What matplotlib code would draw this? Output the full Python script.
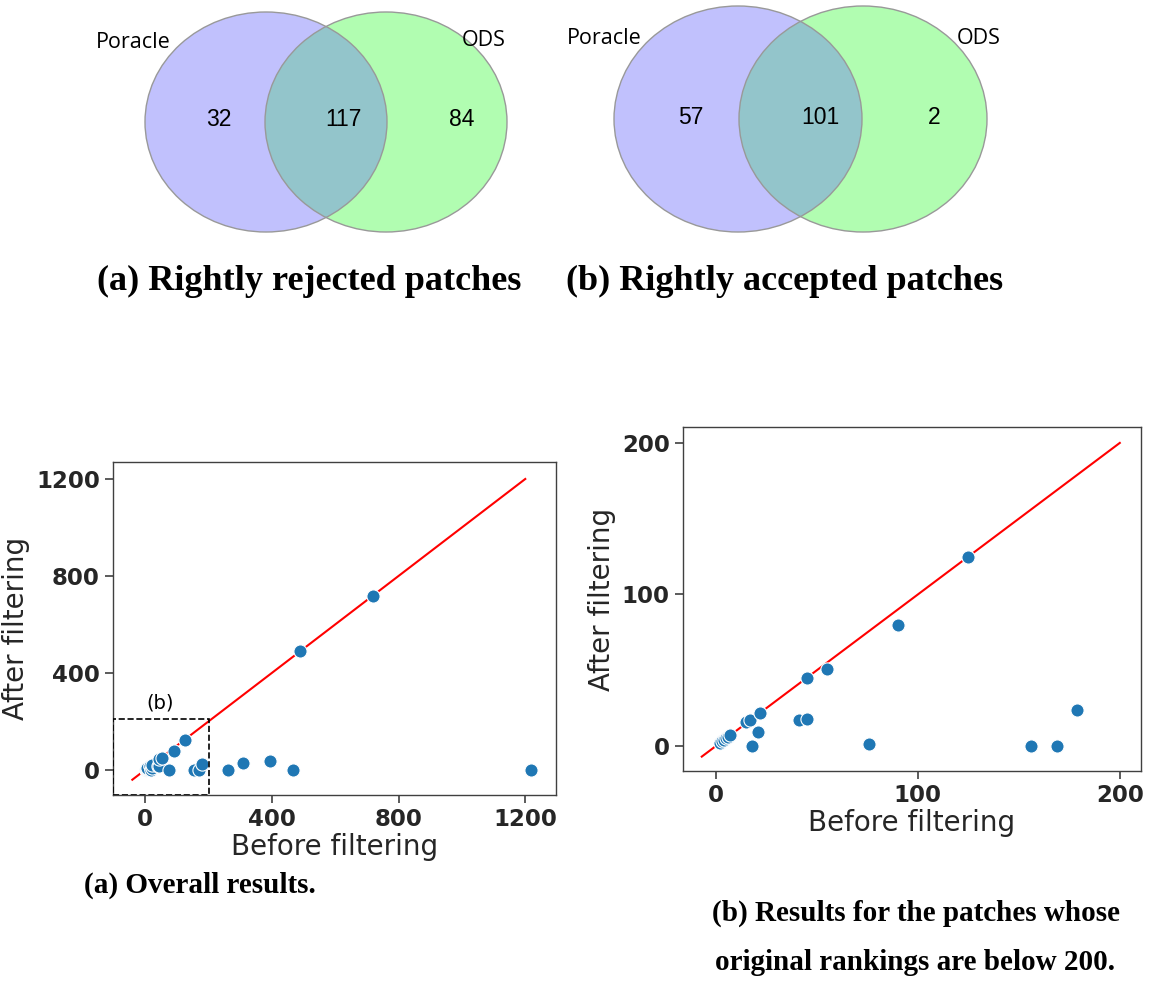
import matplotlib
matplotlib.use('Agg')
import matplotlib.pyplot as plt
from matplotlib.patches import Ellipse, Rectangle

# venn counts: (only poracle, both, only ods)
rejected = [32, 117, 84]
accepted = [57, 101, 2]
set_names = ['Poracle', 'ODS']

# patch rankings before / after filtering
before = [2, 3, 4, 5, 6, 7, 15, 17, 18, 21, 22, 41, 45, 45, 55, 76, 90, 125,
          156, 169, 179, 262, 309, 394, 466, 489, 718, 1219]
after = [2, 3, 4, 5, 6, 7, 16, 17, 0, 9, 22, 17, 18, 45, 51, 1, 80, 125,
         0, 0, 24, 0, 30, 36, 0, 489, 718, 0]

W, H = 1150, 981
fig = plt.figure(figsize=(W / 100, H / 100), dpi=100)

def px_axes(x0, y0, x1, y1):
    # pixel box (top-left origin) -> figure axes
    return fig.add_axes([x0 / W, 1 - y1 / H, (x1 - x0) / W, (y1 - y0) / H])

# ---- top: venn diagrams, drawn in pixel space
va = px_axes(0, 0, W, 300)
va.set_xlim(0, W)
va.set_ylim(300, 0)
va.axis('off')

c_left = '#c1c1fd'
c_right = '#b1fdb1'
c_mid = '#93c5cb'

def venn(cx1, cx2, cy, rx, ry, counts, num_x, lab_pos):
    left = Ellipse((cx1, cy), 2 * rx, 2 * ry, fc=c_left, ec='none')
    right = Ellipse((cx2, cy), 2 * rx, 2 * ry, fc=c_right, ec='none')
    va.add_patch(left)
    va.add_patch(right)
    mid = Ellipse((cx2, cy), 2 * rx, 2 * ry, fc=c_mid, ec='none')
    va.add_patch(mid)
    mid.set_clip_path(left)
    for cx in (cx1, cx2):
        va.add_patch(Ellipse((cx, cy), 2 * rx, 2 * ry, fc='none', ec='#999999', lw=1.0))
    for x, n in zip(num_x, counts):
        va.text(x, cy - 2, str(n), ha='center', va='center', fontsize=16.5,
                family='Liberation Sans')
    for (x, y), name in zip(lab_pos, set_names):
        va.text(x, y, name, ha='center', va='center', fontsize=15.5,
                family='Open Sans')

venn(266, 386, 122, 121, 110, rejected, [219, 343, 462], [(133, 43), (484, 41)])
venn(738, 863, 119, 124, 113, accepted, [691, 820, 934], [(604, 38), (979, 38)])

va.text(309, 281, '(a) Rightly rejected patches', ha='center', va='center',
        fontsize=26, fontweight='bold', family='Liberation Serif')
va.text(785, 281, '(b) Rightly accepted patches', ha='center', va='center',
        fontsize=26, fontweight='bold', family='Liberation Serif')

# ---- bottom: scatter plots
def style(ax):
    for s in ax.spines.values():
        s.set_color('#404040')
        s.set_linewidth(1.0)
    ax.tick_params(axis='both', length=6, width=1.2, color='#404040',
                   labelsize=16.5, labelcolor='#262626')
    for t in ax.get_xticklabels() + ax.get_yticklabels():
        t.set_fontweight('bold')
    ax.set_xlabel('Before filtering', fontsize=20, color='#262626', labelpad=1)
    ax.set_ylabel('After filtering', fontsize=20, color='#262626', labelpad=4)

ax1 = px_axes(113, 462, 556, 795)
ax1.plot([-40, 1200], [-40, 1200], color='red', lw=1.5, zorder=1)
ax1.scatter(before, after, s=90, color='#1f77b4', edgecolor='white',
            linewidth=0.8, zorder=2)
ax1.set_xlim(-101, 1297)
ax1.set_ylim(-103, 1270)
ax1.set_xticks([0, 400, 800, 1200])
ax1.set_yticks([0, 400, 800, 1200])
ax1.add_patch(Rectangle((-101, -103), 303, 313, fill=False, ls='--',
                        ec='black', lw=1.2, zorder=3))
ax1.text(47, 276, '(b)', ha='center', va='center', fontsize=14)
style(ax1)

ax2 = px_axes(683, 427, 1141, 771)
bx = [b for b in before if b <= 200]
by = [a for b, a in zip(before, after) if b <= 200]
ax2.plot([-7, 200], [-7, 200], color='red', lw=1.5, zorder=1)
ax2.scatter(bx, by, s=90, color='#1f77b4', edgecolor='white',
            linewidth=0.8, zorder=2)
ax2.set_xlim(-16.3, 210.5)
ax2.set_ylim(-16.5, 210.5)
ax2.set_xticks([0, 100, 200])
ax2.set_yticks([0, 100, 200])
style(ax2)

fig.text(200 / W, 1 - 885 / H, '(a) Overall results.', ha='center', va='center',
         fontsize=21, fontweight='bold', family='Liberation Serif')
fig.text(916 / W, 1 - 913 / H, '(b) Results for the patches whose', ha='center',
         va='center', fontsize=21, fontweight='bold', family='Liberation Serif')
fig.text(915 / W, 1 - 963 / H, 'original rankings are below 200.', ha='center',
         va='center', fontsize=21, fontweight='bold', family='Liberation Serif')

fig.savefig('out.png', dpi=100)
